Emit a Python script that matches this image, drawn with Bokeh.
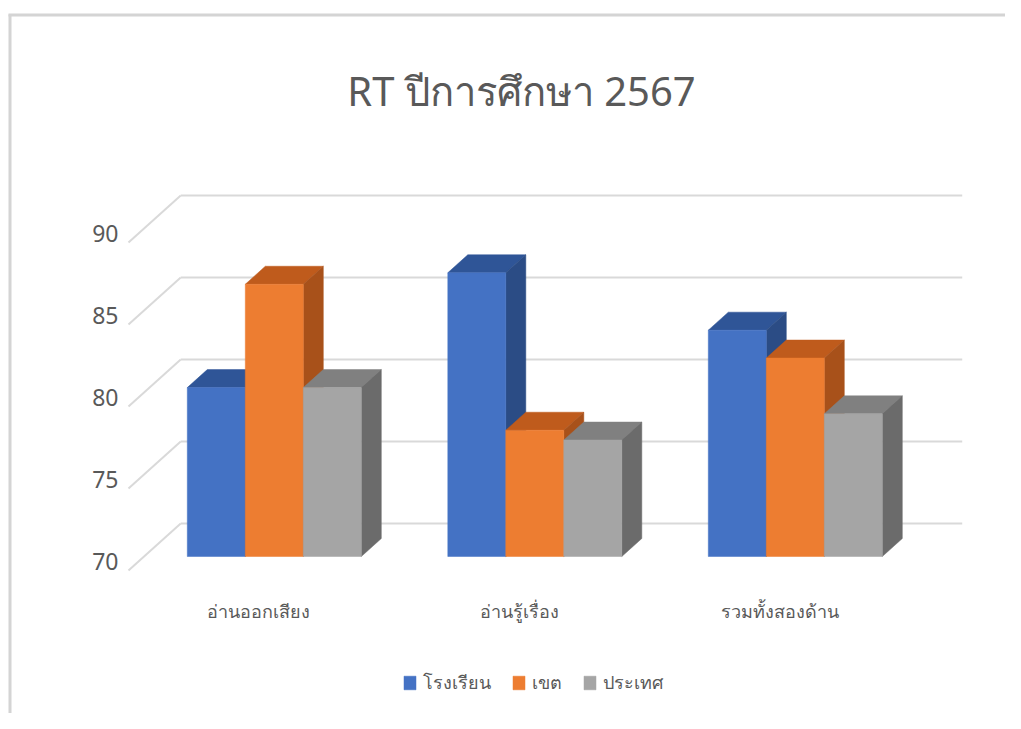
from bokeh.plotting import figure
from bokeh.models import Range1d, Legend, LegendItem, Label
from bokeh.core.properties import value
from bokeh.embed import file_html
from bokeh.resources import INLINE

# ---------------- data ----------------
title_text = "RT ปีการศึกษา 2567"
categories = ["อ่านออกเสียง", "อ่านรู้เรื่อง", "รวมทั้งสองด้าน"]
series_names = ["โรงเรียน", "เขต", "ประเทศ"]
school = [80.3, 87.3, 83.8]
district = [86.6, 77.7, 82.1]
nation = [80.3, 77.1, 78.7]
y_ticks = [70, 75, 80, 85, 90]

# ---------------- style / geometry ----------------
FONT = "Noto Sans"
TXT = "#595959"
GRID = "#d9d9d9"
front_cols = ["#4472C4", "#ED7D31", "#A5A5A5"]
top_cols = ["#2F5597", "#BF5B1C", "#808080"]
side_cols = ["#2B4C85", "#A8511A", "#6B6B6B"]

W, H = 1005, 713
PX_X = 260.5      # px per category step
PX_Y = 16.4       # px per value unit
G0_PAGE_X = 273.8  # page x of first category centre (bar front plane)
BASE_PAGE_Y = 556  # page y of the base value on bar front plane
BASE = 70
PAGE_OFF = 0

x_start = -(G0_PAGE_X - PAGE_OFF) / PX_X
x_end = x_start + W / PX_X
y_top = BASE + (BASE_PAGE_Y - PAGE_OFF) / PX_Y
y_bot = y_top - H / PX_Y


def sx(page_x):
    return x_start + (page_x - PAGE_OFF) / PX_X


def sy(page_y):
    return y_top - (page_y - PAGE_OFF) / PX_Y


DX = 20 / PX_X      # depth offset per unit depth (x)
DY = 18 / PX_Y      # depth offset per unit depth (y)
D_FRONT = -14 / 18
D_BACK = 33 / 18
WALL_L, WALL_R = -0.5, 2.5
BW = 58 / PX_X

p = figure(width=W, height=H, x_range=Range1d(x_start, x_end), y_range=Range1d(y_bot, y_top),
           output_backend="svg", toolbar_location=None, title=None,
           x_axis_location=None, y_axis_location=None, min_border=0)
p.grid.visible = False
p.outline_line_color = None
p.background_fill_color = "white"
p.border_fill_color = "white"

# chart border (top + left)
p.segment(x0=[sx(8), sx(9.5)], y0=[sy(14.5), sy(14)], x1=[x_end, sx(9.5)], y1=[sy(14.5), y_bot],
          line_color="#d4d4d4", line_width=3)

# gridlines: back wall + left-wall diagonals
gx, gy = [], []
for t in y_ticks:
    gx.append([WALL_L + D_BACK * DX, WALL_R + D_BACK * DX])
    gy.append([t + D_BACK * DY, t + D_BACK * DY])
    gx.append([WALL_L + D_FRONT * DX, WALL_L + D_BACK * DX])
    gy.append([t + D_FRONT * DY, t + D_BACK * DY])
p.multi_line(gx, gy, line_color=GRID, line_width=2)

# bars
series = [school, district, nation]
front_renderers = []
for s, vals in enumerate(series):
    lefts = [g + (s - 1) * BW - BW / 2 for g in range(len(categories))]
    rights = [l + BW for l in lefts]
    tx, ty, sxs, sys_ = [], [], [], []
    for l, r, v in zip(lefts, rights, vals):
        tx.append([l, r, r + DX, l + DX])
        ty.append([v, v, v + DY, v + DY])
        sxs.append([r, r, r + DX, r + DX])
        sys_.append([BASE, v, v + DY, BASE + DY])
    p.patches(tx, ty, fill_color=top_cols[s], line_color=top_cols[s], line_width=0.5)
    p.patches(sxs, sys_, fill_color=side_cols[s], line_color=side_cols[s], line_width=0.5)
    fr = p.quad(left=lefts, right=rights, bottom=[BASE] * len(vals), top=vals,
                fill_color=front_cols[s], line_color=front_cols[s], line_width=0.5)
    front_renderers.append(fr)

# y tick labels
p.text(x=[WALL_L + D_FRONT * DX] * len(y_ticks), y=[t + D_FRONT * DY for t in y_ticks],
       text=[str(t) for t in y_ticks], text_align="right", text_baseline="middle",
       x_offset=-10, y_offset=-9, text_font=value(FONT), text_font_size="23px", text_color=TXT)

# category labels
p.text(x=[g + D_FRONT * DX for g in range(len(categories))],
       y=[BASE + D_FRONT * DY] * len(categories), text=categories,
       text_align="center", text_baseline="middle", y_offset=40,
       text_font=value(FONT), text_font_size="18px", text_color=TXT)

# title
p.add_layout(Label(x=sx(521), y=sy(90), text=title_text, text_align="center", text_baseline="middle",
                   text_font=FONT, text_font_size="40px", text_color=TXT))

legend = Legend(items=[LegendItem(label=n, renderers=[r]) for n, r in zip(series_names, front_renderers)],
                orientation="horizontal", location=(402, 16), glyph_width=15, glyph_height=17,
                label_text_font=FONT, label_text_font_size="18px", label_text_color=TXT,
                spacing=20, label_standoff=6, padding=0, margin=0,
                border_line_color=None, background_fill_alpha=0)
p.add_layout(legend)

open("out.html", "w").write(file_html(p, INLINE))
